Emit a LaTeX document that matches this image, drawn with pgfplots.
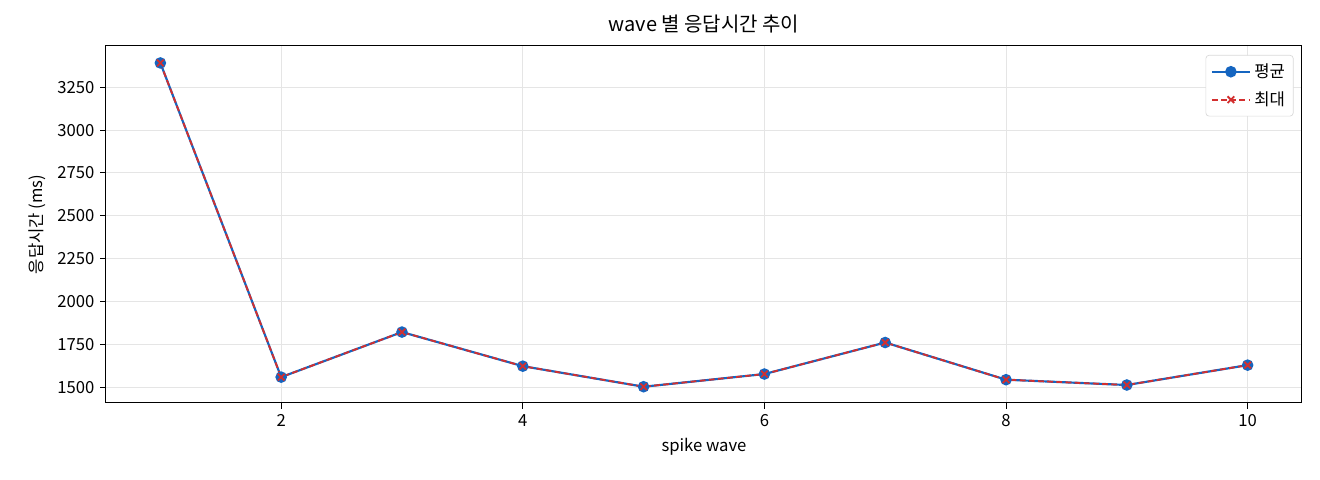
\documentclass[border=0pt]{standalone}
\usepackage{pgfplots}
\pgfplotsset{compat=1.18}
\usepackage{fontspec}
\setmainfont{Noto Sans CJK KR}
\definecolor{cblue}{HTML}{1565C0}
\definecolor{cred}{HTML}{D32F2F}
\begin{document}
\begin{tikzpicture}
\begin{axis}[
  scale only axis,
  width=717.6pt, height=214.2pt,
  xmin=0.55, xmax=10.45, ymin=1407, ymax=3491,
  xtick={2,4,6,8,10},
  ytick={1500,1750,2000,2250,2500,2750,3000,3250},
  xtick pos=bottom, ytick pos=left,
  /pgf/number format/assume math mode=true,
  /pgf/number format/1000 sep={},
  tick label style={font=\fontsize{10}{12}\selectfont},
  label style={font=\fontsize{10}{12}\selectfont},
  title style={font=\fontsize{12}{14}\selectfont, yshift=-2pt},
  title={wave 별 응답시간 추이},
  xlabel={spike wave},
  ylabel={응답시간 (ms)},
  grid=major,
  grid style={gray!20, line width=0.6pt},
  tick align=outside,
  tick style={black, line width=0.6pt},
  major tick length=3.5pt,
  axis line style={line width=0.6pt},
  legend cell align=left,
  legend image code/.code={
    \draw[mark repeat=2,mark phase=2,#1] plot coordinates {(0cm,0cm) (0.4cm,0cm) (0.8cm,0cm)};
  },
  legend style={font=\fontsize{10}{12}\selectfont, draw=gray!30, rounded corners=2pt, inner sep=3pt, row sep=3pt, at={(0.993,0.975)}, anchor=north east},
]
\addplot[cblue, line width=1.3pt, mark=*, mark size=2.8pt, mark options={solid}] coordinates {
(1,3392) (2,1558) (3,1821) (4,1622) (5,1502) (6,1576) (7,1760) (8,1543) (9,1512) (10,1628)};
\addlegendentry{평균}
\addplot[cred, line width=1.1pt, dash pattern=on 3.5pt off 2pt, mark=x, mark size=2.8pt, mark options={solid}] coordinates {
(1,3392) (2,1558) (3,1821) (4,1622) (5,1502) (6,1576) (7,1760) (8,1543) (9,1512) (10,1628)};
\addlegendentry{최대}
\end{axis}
\useasboundingbox (-63.6pt,-46.2pt) rectangle (728.4pt,241.8pt);
\end{tikzpicture}
\end{document}
